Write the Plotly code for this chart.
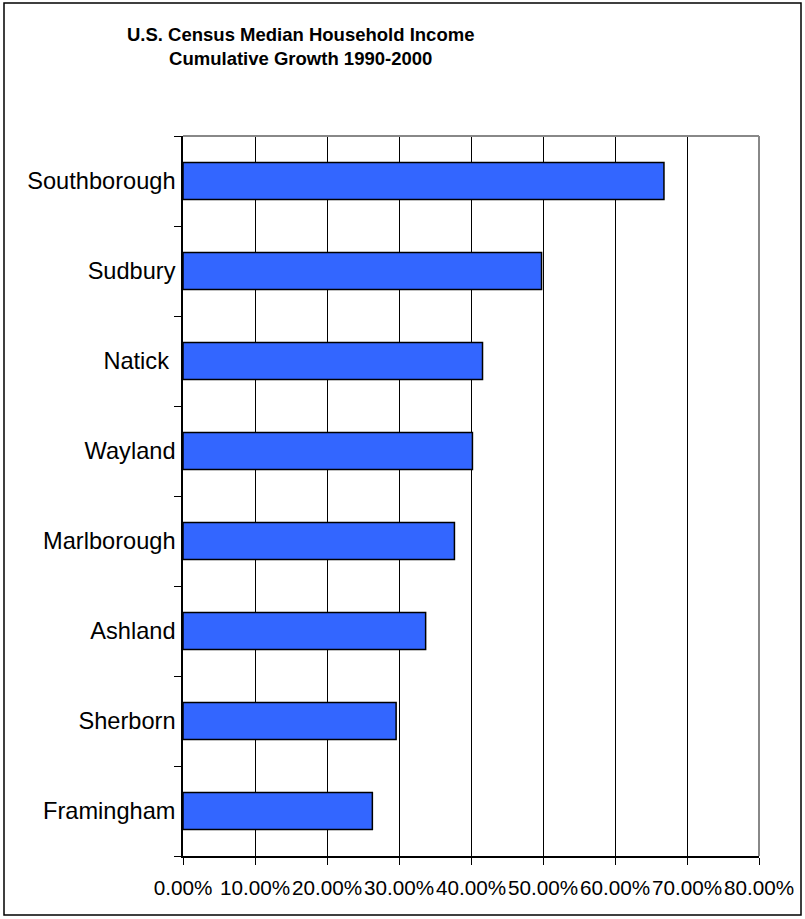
import plotly.graph_objects as go

towns = ["Framingham", "Sherborn", "Ashland", "Marlborough", "Wayland", "Natick", "Sudbury", "Southborough"]
town_labels = ["Framingham", "Sherborn", "Ashland", "Marlborough", "Wayland", "Natick\u00a0", "Sudbury", "Southborough"]
growth = [0.263, 0.296, 0.337, 0.377, 0.402, 0.416, 0.498, 0.668]
x_ticks = [0, 0.1, 0.2, 0.3, 0.4, 0.5, 0.6, 0.7, 0.8]
title_lines = ["U.S. Census Median Household Income", "Cumulative Growth 1990-2000"]

W, H = 805, 919
L, R, T, B = 183, 759, 136, 856

def px(x):
    return (x - L) / (R - L)

def py(y):
    return (B - y) / (B - T)

fig = go.Figure(go.Bar(
    x=growth, y=towns, orientation="h", width=0.41,
    marker=dict(color="#3366ff", line=dict(color="black", width=1.5)),
    hoverinfo="skip",
))

font_family = "Arial, Liberation Sans, sans-serif"

fig.update_layout(
    width=W, height=H,
    margin=dict(l=L, r=W - R, t=T, b=H - B, pad=0, autoexpand=False),
    plot_bgcolor="white", paper_bgcolor="white",
    showlegend=False,
    font=dict(family=font_family, color="black"),
    xaxis=dict(
        range=[0, 0.8], tickvals=x_ticks, tickformat=".2%",
        showgrid=True, gridcolor="black", gridwidth=1,
        showline=True, linecolor="black", linewidth=1.5,
        ticks="outside", ticklen=7, tickcolor="black", tickwidth=1,
        tickfont=dict(size=20.7), tickangle=0, automargin=False,
        zeroline=False, fixedrange=True, ticklabelstandoff=5,
    ),
    yaxis=dict(
        type="category", categoryorder="array", categoryarray=towns,
        tickvals=towns, ticktext=town_labels,
        range=[-0.5, len(towns) - 0.5],
        showline=True, linecolor="black", linewidth=1.5,
        ticks="outside", tickson="boundaries", ticklen=7, tickcolor="black", tickwidth=1,
        tickfont=dict(size=23.6), automargin=False,
        showgrid=False, zeroline=False, fixedrange=True, ticklabelstandoff=1,
    ),
    shapes=[
        dict(type="line", xref="paper", yref="paper", x0=0, x1=1, y0=1, y1=1,
             line=dict(color="#888888", width=2), layer="above"),
        dict(type="line", xref="paper", yref="paper", x0=1, x1=1, y0=0, y1=1,
             line=dict(color="#888888", width=2), layer="above"),
        dict(type="rect", xref="paper", yref="paper",
             x0=px(4), x1=px(801), y0=py(915), y1=py(3),
             line=dict(color="black", width=1.5), layer="above"),
    ],
    annotations=[
        dict(text="<b>" + title_lines[0] + "</b><br><b>" + title_lines[1] + "</b>",
             xref="paper", yref="paper", x=px(300), y=py(46),
             xanchor="center", yanchor="middle", showarrow=False, align="center",
             font=dict(size=18.5, family=font_family, color="black")),
    ],
)

fig.write_html("out.html")
